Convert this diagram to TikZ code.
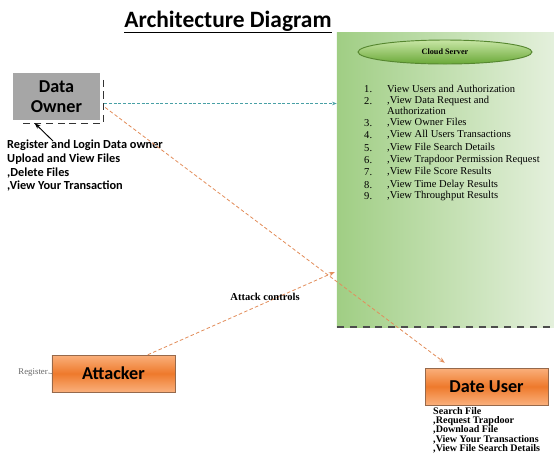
\documentclass[tikz,border=0pt]{standalone}
\usepackage{fontspec}
\setmainfont{Liberation Serif}
\newfontfamily\calibri{Carlito}
\usetikzlibrary{positioning,shapes.geometric,arrows.meta}

\definecolor{ownergray}{RGB}{166,166,166}
\definecolor{cloudleft}{RGB}{160,206,132}
\definecolor{cloudright}{RGB}{228,240,220}
\definecolor{ovaltop}{RGB}{200,230,165}
\definecolor{ovalbottom}{RGB}{105,168,55}
\definecolor{ovalline}{RGB}{86,135,48}
\definecolor{boxtop}{RGB}{250,176,124}
\definecolor{boxmid}{RGB}{238,122,44}
\definecolor{boxline}{RGB}{150,105,75}
\definecolor{linkteal}{RGB}{72,160,165}
\definecolor{linkorange}{RGB}{226,142,92}

\begin{document}
\begin{tikzpicture}[x=0.03cm,y=-0.03cm,
    ownerbox/.style={rectangle,fill=ownergray,inner sep=0pt,minimum width=2.61cm,minimum height=1.41cm,font=\calibri\bfseries\fontsize{15.5}{17}\selectfont,align=center},
    cloudbox/.style={rectangle,left color=cloudleft,right color=cloudright,inner sep=0pt,minimum width=6.51cm,minimum height=8.82cm},
    serveroval/.style={ellipse,draw=ovalline,line width=0.8pt,top color=ovaltop,bottom color=ovalbottom,inner sep=0pt,minimum width=5.22cm,minimum height=0.72cm,font=\bfseries\fontsize{7}{8}\selectfont},
    userbox/.style={rectangle,draw=boxline,top color=boxtop,bottom color=boxtop,middle color=boxmid,inner sep=0pt,minimum width=3.69cm,minimum height=1.11cm,font=\calibri\bfseries\fontsize{15.5}{17}\selectfont},
    notes/.style={inner sep=0pt,align=left,anchor=north west},
    listtext/.style={inner sep=0pt,anchor=west,font=\fontsize{9}{10}\selectfont},
    bracket/.style={dashed,line width=1pt,dash pattern=on 6pt off 4pt,black!80},
    cloudedge/.style={dashed,line width=1.6pt,dash pattern=on 6pt off 5pt,black!70},
    ownerlink/.style={dashed,linkteal,line width=0.8pt,dash pattern=on 2.5pt off 1.5pt,-{Stealth[length=4pt]}},
    attacklink/.style={dashed,linkorange,line width=0.7pt,dash pattern=on 3pt off 2pt,-{Stealth[length=5pt]}}
    ]

    \useasboundingbox (0,0) rectangle (554,462);

    \node (title) [font=\calibri\bfseries\fontsize{20}{24}\selectfont] at (228,22) {\underline{Architecture Diagram}};

    % cloud server
    \node (cloud) [cloudbox] at (445.5,180) {};
    \draw[cloudedge] (cloud.south west) -- (cloud.south east);
    \node (server) [serveroval] at (445,52) {Cloud Server};

    \foreach \n/\y/\t in {1/89/{View Users and Authorization},
                          2/101/{,View Data Request and},
                          3/123/{,View Owner Files},
                          4/135/{,View All Users Transactions},
                          5/148/{,View File Search Details},
                          6/160/{,View Trapdoor Permission Request},
                          7/172/{,View File Score Results},
                          8/185/{,View Time Delay Results},
                          9/196/{,View Throughput Results}}
    {
      \node (num\n) [listtext] at (364,\y) {\n.};
      \node (item\n) [listtext] at (387,\y) {\t};
    }
    \node (item2b) [listtext] at (387,111) {Authorization};

    % data owner
    \node (owner) [ownerbox] at (56.5,96.5) {Data\\Owner};
    \draw[bracket] ([shift={(3,7)}]owner.north east) |- ([shift={(9,3)}]owner.south west);
    \node (ownernotes) [notes,font=\calibri\bfseries\fontsize{10.5}{11.7}\selectfont] at (7,140) {
      Register and Login Data owner\\
      Upload and View Files\\
      ,Delete Files\\
      ,View Your Transaction
    };
    \draw[-{Stealth[length=5pt]},line width=0.8pt] ([shift={(46,1)}]ownernotes.north west) -- ([shift={(22,3)}]owner.south west);

    % attacker and user
    \node (attacker) [userbox] at (113.5,373.5) {Attacker};
    \node (register) [inner sep=0pt,anchor=east,text=black!60,font=\fontsize{7.5}{8}\selectfont] at (48,373) {Register};
    \draw[black!50,line width=0.5pt] (register.east) -- (attacker.west);

    \node (dateuser) [userbox] at (486.5,386.5) {Date User};
    \node (usernotes) [notes,font=\bfseries\fontsize{8.6}{7.9}\selectfont] at (433,407) {
      Search File\\
      ,Request Trapdoor\\
      ,Download File\\
      ,View Your Transactions\\
      ,View File Search Details
    };

    \coordinate (ownerport) at ([shift={(4,7)}]owner.east);
    \draw[ownerlink] (ownerport) -- (ownerport -| cloud.west);
    \draw[attacklink] ([shift={(5,11)}]owner.east) -- ([shift={(20,-5)}]dateuser.north west);
    \draw[attacklink] ([shift={(96,0)}]attacker.north west) -- ([shift={(-2,92)}]cloud.west);

    \node (attackctl) [font=\bfseries\fontsize{9}{10}\selectfont] at (265,297) {Attack controls};

  \end{tikzpicture}
\end{document}
